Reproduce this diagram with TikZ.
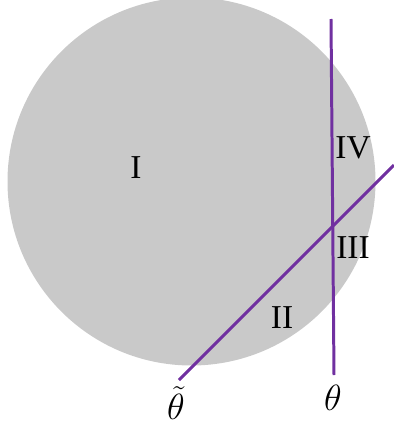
\documentclass[tikz,border=0pt]{standalone}
\usepackage{fontspec}
\setmainfont{Liberation Serif}
\usepackage{xcolor}
\definecolor{Purple}{HTML}{7030A0}
\definecolor{DiskGray}{HTML}{C9C9C9}

\begin{document}
\begin{tikzpicture}[
    x=0.02cm, y=-0.02cm,
    cut/.style={draw=Purple, line width=1.7pt},
    region/.style={font=\fontsize{19}{22}\selectfont},
    param/.style={font=\fontsize{22}{26}\selectfont, inner sep=1pt}
  ]
    \useasboundingbox (0,0) rectangle (393,423);
    \fill[DiskGray] (191.5,181.5) circle (184);

    % end points of the two cuts
    \coordinate (t1) at (331,19);
    \coordinate (t2) at (334,375);
    \coordinate (s1) at (179,380);
    \coordinate (s2) at (394,165);

    \draw[cut] (t1) -- (t2);
    \draw[cut] (s1) -- (s2);

    \node[region] (r1) at (136,168) {I};
    \node[region] (r2) at (282,318) {II};
    \node[region] (r3) at (353,248) {III};
    \node[region] (r4) at (353,148) {IV};

    \node[param] (pt) at (176,403) {$\tilde{\theta}$};
    \node[param] (p) at (333,398) {$\theta$};
  \end{tikzpicture}
\end{document}
